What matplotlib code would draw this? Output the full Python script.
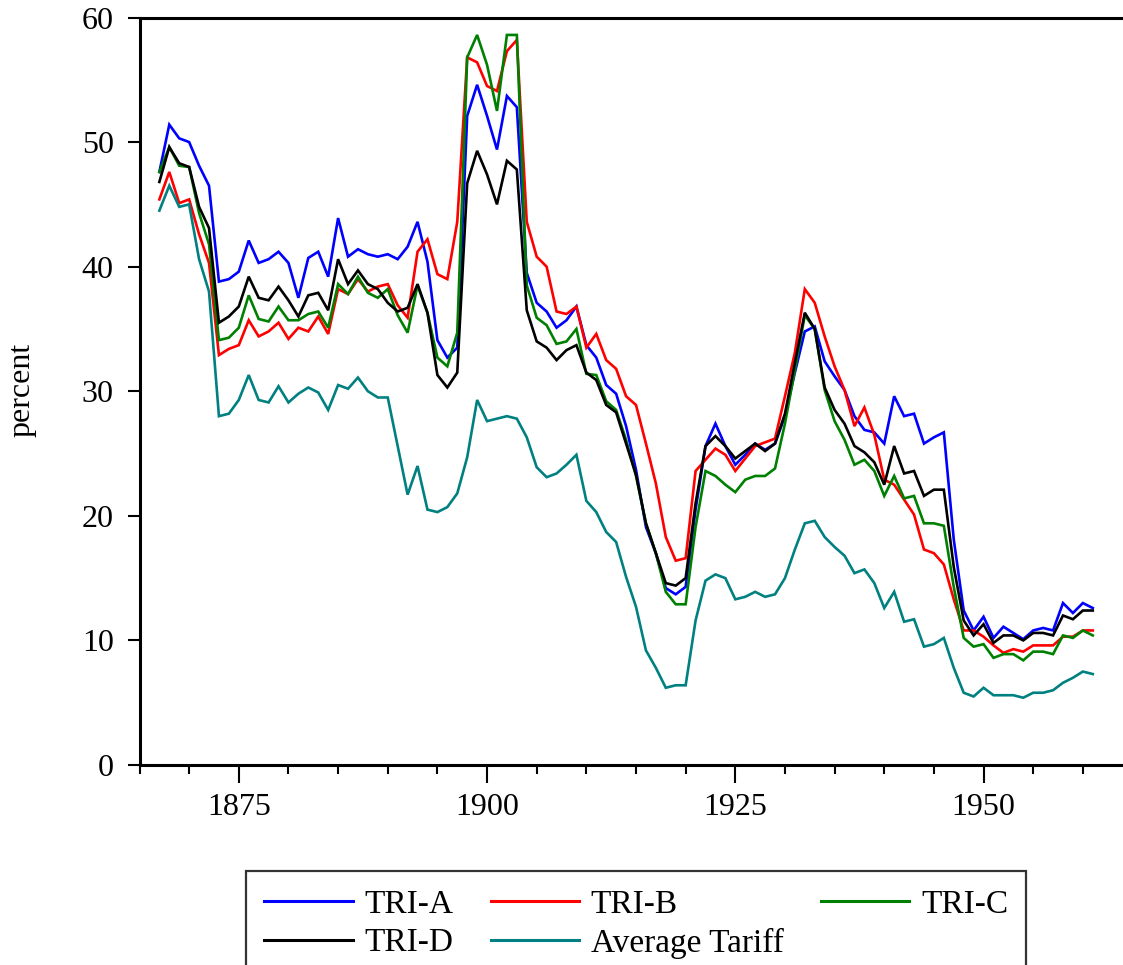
import matplotlib
matplotlib.use("Agg")
import matplotlib.pyplot as plt
from matplotlib.ticker import MultipleLocator

years = list(range(1867, 1962))

tri_a = [47.6, 51.4, 50.3, 50.0, 48.1, 46.5, 38.8, 39.0, 39.6, 42.1,
         40.3, 40.6, 41.2, 40.3, 37.5, 40.7, 41.2, 39.2, 43.9, 40.8,
         41.4, 41.0, 40.8, 41.0, 40.6, 41.6, 43.6, 40.4, 34.1, 32.7,
         33.5, 52.1, 54.6, 52.1, 49.4, 53.7, 52.8, 39.5, 37.1, 36.4,
         35.1, 35.7, 36.8, 33.7, 32.7, 30.5, 29.8, 27.2, 23.7, 19.1,
         17.0, 14.2, 13.7, 14.3, 20.5, 25.6, 27.4, 25.6, 24.1, 24.9,
         25.8, 25.3, 25.8, 28.0, 31.5, 34.8, 35.2, 32.4, 31.2, 30.1,
         28.0, 26.9, 26.7, 25.8, 29.6, 28.0, 28.2, 25.8, 26.3, 26.7,
         18.1, 12.4, 10.8, 11.9, 10.2, 11.1, 10.6, 10.1, 10.8, 11.0,
         10.8, 13.0, 12.2, 13.0, 12.6]

tri_b = [45.4, 47.6, 45.1, 45.4, 42.6, 40.3, 32.9, 33.4, 33.7, 35.7,
         34.4, 34.8, 35.5, 34.2, 35.1, 34.8, 36.0, 34.6, 38.2, 37.8,
         39.0, 38.0, 38.4, 38.6, 36.9, 35.9, 41.2, 42.2, 39.4, 39.0,
         43.6, 56.8, 56.4, 54.5, 54.1, 57.3, 58.2, 43.6, 40.8, 40.0,
         36.4, 36.2, 36.8, 33.5, 34.6, 32.5, 31.8, 29.6, 28.9, 25.8,
         22.6, 18.3, 16.4, 16.6, 23.6, 24.5, 25.4, 24.9, 23.6, 24.6,
         25.6, 25.9, 26.2, 29.6, 33.1, 38.2, 37.1, 34.4, 32.0, 30.1,
         27.2, 28.7, 26.5, 22.9, 22.5, 21.3, 20.1, 17.3, 17.0, 16.1,
         13.3, 10.8, 10.8, 10.3, 9.6, 9.0, 9.3, 9.1, 9.6, 9.6,
         9.6, 10.3, 10.3, 10.8, 10.8]

tri_c = [47.6, 49.6, 48.1, 48.0, 44.3, 41.8, 34.1, 34.3, 35.1, 37.7,
         35.8, 35.6, 36.8, 35.7, 35.7, 36.2, 36.4, 35.1, 38.6, 37.8,
         39.2, 37.9, 37.5, 38.2, 36.1, 34.7, 38.5, 36.3, 32.7, 32.0,
         34.7, 56.8, 58.6, 56.2, 52.5, 58.6, 58.6, 38.5, 35.9, 35.3,
         33.8, 34.0, 35.0, 31.4, 31.3, 29.2, 28.5, 26.1, 23.2, 19.4,
         17.0, 13.9, 12.9, 12.9, 19.1, 23.6, 23.2, 22.5, 21.9, 22.9,
         23.2, 23.2, 23.8, 27.4, 31.7, 36.1, 35.0, 30.1, 27.6, 26.1,
         24.1, 24.5, 23.6, 21.6, 23.2, 21.4, 21.6, 19.4, 19.4, 19.2,
         14.3, 10.2, 9.5, 9.7, 8.6, 8.9, 8.9, 8.4, 9.1, 9.1,
         8.9, 10.4, 10.2, 10.8, 10.4]

tri_d = [46.8, 49.6, 48.3, 48.0, 44.8, 43.1, 35.5, 36.0, 36.8, 39.2,
         37.5, 37.3, 38.4, 37.3, 36.0, 37.7, 37.9, 36.5, 40.6, 38.6,
         39.7, 38.6, 38.2, 37.1, 36.4, 36.7, 38.6, 36.3, 31.3, 30.3,
         31.5, 46.7, 49.3, 47.4, 45.0, 48.5, 47.8, 36.5, 34.0, 33.5,
         32.5, 33.3, 33.7, 31.5, 30.9, 28.9, 28.3, 25.8, 23.3, 19.4,
         17.0, 14.6, 14.4, 15.0, 21.0, 25.6, 26.4, 25.6, 24.6, 25.2,
         25.8, 25.2, 25.8, 28.2, 32.3, 36.3, 35.0, 30.3, 28.5, 27.4,
         25.6, 25.1, 24.3, 22.5, 25.6, 23.4, 23.6, 21.6, 22.1, 22.1,
         15.9, 11.6, 10.4, 11.3, 9.8, 10.4, 10.4, 10.0, 10.6, 10.6,
         10.4, 12.0, 11.7, 12.4, 12.4]

avg_tariff = [44.5, 46.5, 44.8, 45.0, 40.6, 38.0, 28.0, 28.2, 29.3, 31.3,
              29.3, 29.1, 30.4, 29.1, 29.8, 30.3, 29.9, 28.5, 30.5, 30.2,
              31.1, 30.0, 29.5, 29.5, 25.6, 21.7, 24.0, 20.5, 20.3, 20.7,
              21.8, 24.7, 29.3, 27.6, 27.8, 28.0, 27.8, 26.3, 23.9, 23.1,
              23.4, 24.1, 24.9, 21.2, 20.3, 18.7, 17.9, 15.1, 12.7, 9.2,
              7.8, 6.2, 6.4, 6.4, 11.6, 14.8, 15.3, 15.0, 13.3, 13.5,
              13.9, 13.5, 13.7, 15.0, 17.3, 19.4, 19.6, 18.3, 17.5, 16.8,
              15.4, 15.7, 14.6, 12.6, 13.9, 11.5, 11.7, 9.5, 9.7, 10.2,
              7.8, 5.8, 5.5, 6.2, 5.6, 5.6, 5.6, 5.4, 5.8, 5.8,
              6.0, 6.6, 7.0, 7.5, 7.3]

series_labels = ["TRI-A", "TRI-B", "TRI-C", "TRI-D", "Average Tariff"]
series_colors = ["#0000ff", "#ff0000", "#008000", "#000000", "#008080"]
series_values = [tri_a, tri_b, tri_c, tri_d, avg_tariff]

plt.rcParams['font.family'] = ['Liberation Serif', 'DejaVu Serif']

W, H = 1123, 965
fig = plt.figure(figsize=(W / 100, H / 100), dpi=100)
left_px, right_px, top_px, bottom_px = 139.5, 1125, 17.5, 765
ax = fig.add_axes([left_px / W, 1 - bottom_px / H,
                   (right_px - left_px) / W, (bottom_px - top_px) / H])

handles = []
for vals, lab, col in zip(series_values, series_labels, series_colors):
    h, = ax.plot(years, vals, color=col, lw=1.9, label=lab, solid_joinstyle='miter')
    handles.append(h)

ax.set_xlim(1865, 1865 + (right_px - left_px) / 9.93)
ax.set_ylim(0, 60)
ax.xaxis.set_major_locator(MultipleLocator(25))
ax.xaxis.set_minor_locator(MultipleLocator(5))
ax.yaxis.set_major_locator(MultipleLocator(10))
ax.set_xticks([1875, 1900, 1925, 1950])

for s in ['left', 'bottom', 'top']:
    ax.spines[s].set_linewidth(2.2)
ax.spines['right'].set_visible(False)

ax.tick_params(axis='x', which='major', direction='out', length=13, width=1.5,
               labelsize=23, pad=7, top=False)
ax.tick_params(axis='x', which='minor', direction='out', length=6.5, width=1.5, top=False)
ax.tick_params(axis='y', which='major', direction='out', length=8.6, width=1.5,
               labelsize=23, pad=10, right=False)

fig.text(22 / W, 1 - 390 / H, "percent", rotation=90, ha='center', va='center',
         fontsize=23)

order = [0, 3, 1, 4, 2]
leg = fig.legend([handles[i] for i in order], [series_labels[i] for i in order],
                 ncol=3, loc='upper left',
                 bbox_to_anchor=(246 / W, 1 - 871 / H),
                 fontsize=24, frameon=True, fancybox=False, shadow=False,
                 handlelength=2.65, handletextpad=0.35, columnspacing=1.12,
                 labelspacing=0.24, borderpad=0.55, borderaxespad=0.0)
leg.get_frame().set_edgecolor('black')
leg.get_frame().set_linewidth(1.6)
for lh in leg.get_lines():
    lh.set_linewidth(2.2)

fig.savefig("out.png", dpi=100)
